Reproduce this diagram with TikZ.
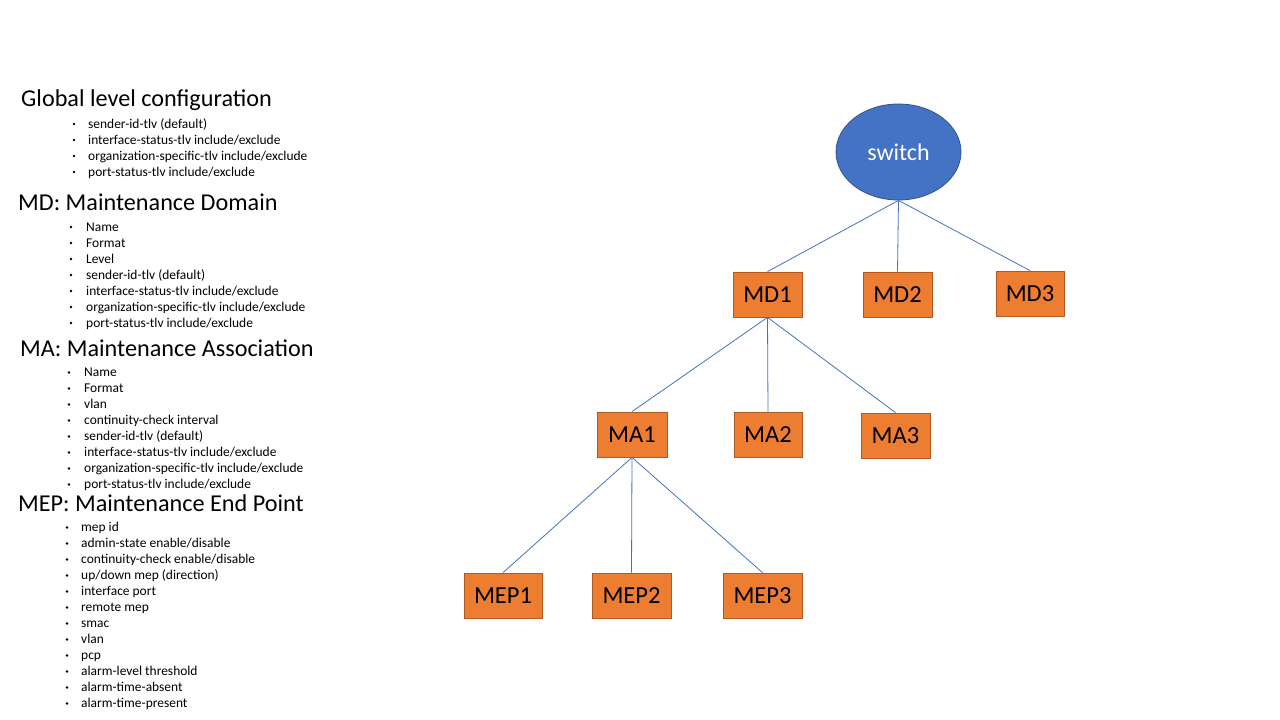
\documentclass[tikz,border=0pt]{standalone}
\usepackage{fontspec}
\setmainfont{Carlito}
\usetikzlibrary{shapes.geometric}
\definecolor{bl}{HTML}{4472C4}
\definecolor{bld}{HTML}{2F528F}
\definecolor{or}{HTML}{ED7D31}
\definecolor{ord}{HTML}{AE5A21}
\tikzset{
  box/.style={draw=ord, line width=0.8pt, fill=or, inner sep=0pt, minimum height=45pt, font=\fontsize{24.5}{28}\selectfont, text=black},
  link/.style={draw=bl, line width=0.8pt},
  title/.style={anchor=base west, inner sep=0pt, font=\fontsize{24.2}{28}\selectfont},
  item/.style={anchor=base west, inner sep=0pt, font=\fontsize{13.45}{16}\selectfont},
  bul/.style={circle, fill=black, inner sep=0pt, minimum size=2.8pt},
}
\begin{document}
\begin{tikzpicture}[x=1pt,y=-1pt]
\useasboundingbox (0,0) rectangle (1280,720);
\fill[white] (0,0) rectangle (1280,720);
% left text
\node[title] (t1) at (21,106) {Global level configuration};
\foreach \t [count=\i] in {sender-id-tlv (default),interface-status-tlv include/exclude,organization-specific-tlv include/exclude,port-status-tlv include/exclude}{
  \node[bul] (b1\i) at (74,{128-4+16*(\i-1)}) {};
  \node[item] (i1\i) at (88,{128+16*(\i-1)}) {\t};
}
\node[title] (t2) at (18,210) {MD: Maintenance Domain};
\foreach \t [count=\i] in {Name,Format,Level,sender-id-tlv (default),interface-status-tlv include/exclude,organization-specific-tlv include/exclude,port-status-tlv include/exclude}{
  \node[bul] (b2\i) at (71,{231-4+16*(\i-1)}) {};
  \node[item] (i2\i) at (86,{231+16*(\i-1)}) {\t};
}
\node[title] (t3) at (20,356) {MA: Maintenance Association};
\foreach \t [count=\i] in {Name,Format,vlan,continuity-check interval,sender-id-tlv (default),interface-status-tlv include/exclude,organization-specific-tlv include/exclude,port-status-tlv include/exclude}{
  \node[bul] (b3\i) at (69,{376.5-4+16*(\i-1)}) {};
  \node[item] (i3\i) at (84,{376.5+16*(\i-1)}) {\t};
}
\node[title] (t4) at (18,511) {MEP: Maintenance End Point};
\foreach \t [count=\i] in {mep id,admin-state enable/disable,continuity-check enable/disable,up/down mep (direction),interface port,remote mep,smac,vlan,pcp,alarm-level threshold,alarm-time-absent,alarm-time-present}{
  \node[bul] (b4\i) at (67,{531.5-4+16*(\i-1)}) {};
  \node[item] (i4\i) at (81,{531.5+16*(\i-1)}) {\t};
}
% tree
\node[ellipse, draw=bld, line width=0.8pt, fill=bl, inner sep=0pt, minimum width=125pt, minimum height=96pt, text=white, font=\fontsize{24}{28}\selectfont] (sw) at (898.5,152) {switch};
\node[box, minimum width=69pt] (md1) at (767.5,294.5) {MD1};
\node[box, minimum width=69pt] (md2) at (897.5,294.5) {MD2};
\node[box, minimum width=68pt] (md3) at (1030,293.5) {MD3};
\node[box, minimum width=70pt] (ma1) at (632,434.5) {MA1};
\node[box, minimum width=68pt] (ma2) at (768,435) {MA2};
\node[box, minimum width=69pt] (ma3) at (895.5,435.5) {MA3};
\node[box, minimum width=78pt] (mep1) at (503,595.5) {MEP1};
\node[box, minimum width=79pt] (mep2) at (631.5,595.5) {MEP2};
\node[box, minimum width=79pt] (mep3) at (762.5,595.5) {MEP3};
\foreach \c in {md1,md2,md3} \draw[link] (sw.south) -- (\c.north);
\foreach \c in {ma1,ma2,ma3} \draw[link] (md1.south) -- (\c.north);
\foreach \c in {mep1,mep2,mep3} \draw[link] (ma1.south) -- (\c.north);
\end{tikzpicture}
\end{document}
